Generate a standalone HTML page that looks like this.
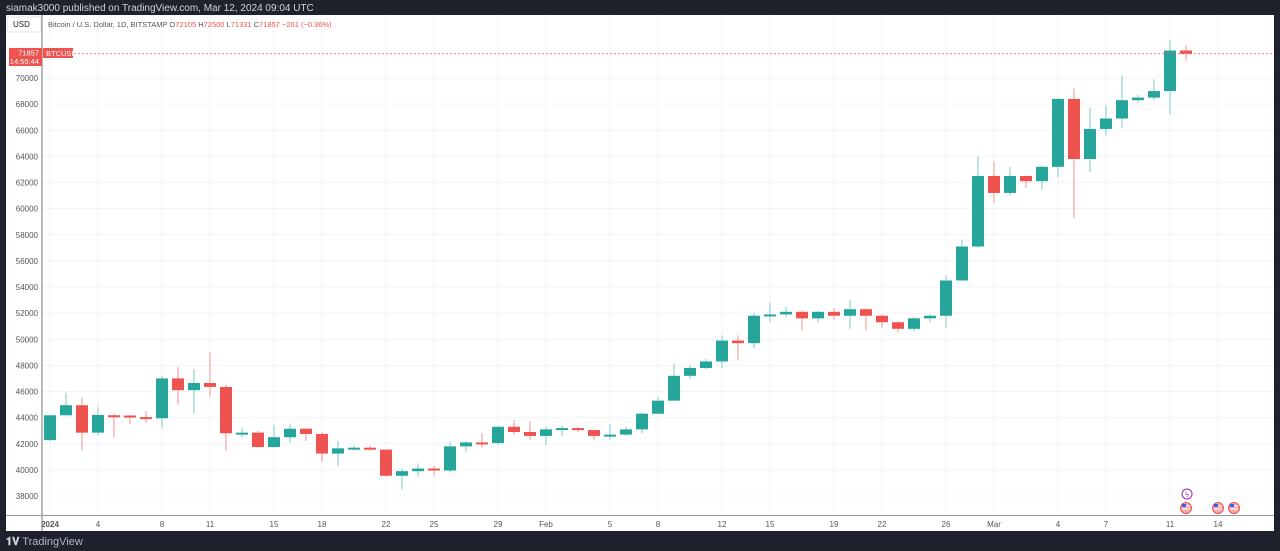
<!DOCTYPE html>
<html><head><meta charset="utf-8"><style>
body{margin:0;width:1280px;height:551px;background:#1e222d;overflow:hidden;font-family:"Liberation Sans",sans-serif}
#top{position:absolute;left:6px;top:3px;color:#d1d4dc;font-size:10px}
#chart{position:absolute;left:6px;top:15px;width:1268px;height:516px;background:#fff}
#bot{position:absolute;left:6px;top:536px;color:#b2b5be;font-size:11px}
</style></head><body>
<div id="top">siamak3000 published on TradingView.com, Mar 12, 2024 09:04 UTC</div>
<div id="chart"></div>
<svg id="s" width="1280" height="551" style="position:absolute;left:0;top:0" font-family="Liberation Sans, sans-serif"></svg>
<div id="bot"><b style="color:#d1d4dc">𝟏𝐕</b> TradingView</div>
<script>
const d=[[42280,44180,44200,42200],[44180,44950,45900,44150],[44950,42850,45500,41500],[42850,44200,44800,42650],[44180,44160,44300,42500],[44160,44040,44200,43500],[44040,43950,44500,43600],[43950,47000,47200,43200],[47000,46100,47900,45000],[46100,46650,47700,44300],[46650,46350,49000,45600],[46350,42800,46500,41500],[42800,42850,43200,42500],[42850,41750,43000,41700],[41750,42500,43400,41700],[42500,43150,43550,42100],[43150,42750,43200,42200],[42750,41250,42900,40600],[41250,41650,42200,40300],[41650,41700,41850,41450],[41700,41550,41850,41450],[41550,39550,41600,39450],[39550,39900,40100,38500],[39900,40100,40500,39500],[40100,39950,40300,39500],[39950,41800,42200,39800],[41800,42100,42200,41400],[42100,42050,42800,41700],[42050,43300,43400,41900],[43300,42900,43800,42700],[42900,42600,43700,42300],[42600,43100,43300,41900],[43100,43200,43400,42600],[43200,43050,43300,42900],[43050,42600,43100,42300],[42600,42700,43500,42300],[42700,43100,43300,42600],[43100,44300,44400,42800],[44300,45300,45600,44300],[45300,47200,48100,45300],[47200,47800,48000,47000],[47800,48300,48500,47700],[48300,49900,50300,47800],[49900,49700,50300,48400],[49700,51800,52000,49300],[51800,51900,52800,51300],[51900,52100,52500,51700],[52100,51600,52200,50700],[51600,52100,52200,51300],[52100,51800,52400,51500],[51800,52300,53000,50800],[52300,51800,52400,50700],[51800,51300,51900,50900],[51300,50800,51400,50500],[50800,51600,51700,50600],[51600,51800,51900,51300],[51800,54500,54900,50900],[54500,57100,57600,54500],[57100,62500,64000,57000],[62500,61200,63600,60400],[61200,62500,63200,61000],[62500,62100,62500,61600],[62100,63200,63300,61400],[63200,68400,68500,62400],[68400,63800,69200,59300],[63800,66100,67700,62800],[66100,66900,67900,65600],[66900,68300,70200,66200],[68300,68500,68700,68100],[68500,69000,69900,68300],[69000,72100,72900,67200],[72105,71857,72500,71331]];
const Y=p=>78+(70000-p)/2000*26.125, X=i=>50+i*16;
let h='';
for(let p=38000;p<=70000;p+=2000){const y=Y(p);h+=`<line x1="42" x2="1274" y1="${y}" y2="${y}" stroke="#f0f3fa"/>`;h+=`<text x="38" y="${y+3}" font-size="8" fill="#555" text-anchor="end">${p}</text>`;}
const xl=[[0,'2024'],[3,'4'],[7,'8'],[10,'11'],[14,'15'],[17,'18'],[21,'22'],[24,'25'],[28,'29'],[31,'Feb'],[35,'5'],[38,'8'],[42,'12'],[45,'15'],[49,'19'],[52,'22'],[56,'26'],[59,'Mar'],[63,'4'],[66,'7'],[70,'11'],[73,'14']];
xl.forEach(([i,t])=>{const x=X(i);h+=`<line x1="${x}" x2="${x}" y1="15" y2="515" stroke="#f0f3fa"/>`;h+=`<text x="${x}" y="527" font-size="8" fill="#555" text-anchor="middle" ${t=='2024'?'font-weight="bold"':''}>${t}</text>`;});
h+=`<line x1="42" x2="42" y1="15" y2="531" stroke="#777"/><line x1="6" x2="1274" y1="515.5" y2="515.5" stroke="#999"/>`;
d.forEach((c,i)=>{const[o,cl,hi,lo]=c,x=X(i),g=cl>=o,col=g?'#26a69a':'#ef5350',wc=g?'#8fd3cc':'#f5a3a2';
h+=`<line x1="${x}" x2="${x}" y1="${Y(hi)}" y2="${Y(lo)}" stroke="${wc}" stroke-width="1.2"/>`;
const t=Y(Math.max(o,cl)),b=Y(Math.min(o,cl));h+=`<rect x="${x-6}" y="${t}" width="12" height="${Math.max(b-t,2)}" fill="${col}"/>`;});
const py=Y(71857);
h+=`<line x1="42" x2="1274" y1="${py}" y2="${py}" stroke="#ef5350" stroke-dasharray="2,2" stroke-width="0.7"/>`;
h+=`<rect x="9" y="48" width="33" height="18" fill="#ef5350"/><text x="39" y="55.5" font-size="7.5" fill="#fff" text-anchor="end">71857</text><text x="39" y="64" font-size="7.5" fill="#fff" text-anchor="end">14:55:44</text>`;
h+=`<rect x="43" y="48" width="30" height="10" fill="#ef5350"/><text x="46" y="56" font-size="7.5" fill="#fff">BTCUSD</text>`;
h+=`<rect x="7" y="17" width="34" height="15" rx="2" fill="#fff" stroke="#e0e3eb"/><text x="13" y="27" font-size="8" fill="#222">USD</text>`;
h+=`<text x="48" y="27" font-size="7.5" fill="#555">Bitcoin / U.S. Dollar, 1D, BITSTAMP  O<tspan fill="#ef5350">72105</tspan>  H<tspan fill="#ef5350">72500</tspan>  L<tspan fill="#ef5350">71331</tspan>  C<tspan fill="#ef5350">71857  −261 (−0.36%)</tspan></text>`;
h+=`<circle cx="1187" cy="494" r="5" fill="#fff" stroke="#9c27b0"/><text x="1187" y="497" font-size="7" fill="#9c27b0" text-anchor="middle">ϟ</text>`;
[1186,1218,1234].forEach(x=>{h+=`<circle cx="${x}" cy="508" r="5.5" fill="#f7a8a8" stroke="#ef5350"/><path d="M${x-4} 506 h8" stroke="#fff"/><path d="M${x-4} 509 h8" stroke="#fff"/><rect x="${x-4}" y="504" width="4" height="3" fill="#2962ff"/>`;});
document.getElementById('s').innerHTML=h;
</script>
</body></html>
